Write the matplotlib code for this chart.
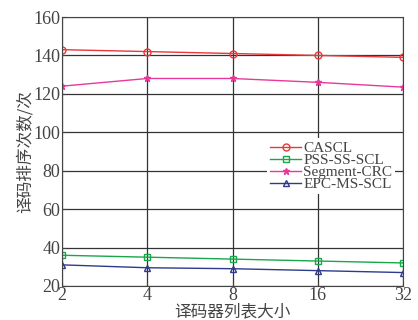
import matplotlib.pyplot as plt
import numpy as np

plt.rcParams['font.family'] = ['Liberation Serif', 'Noto Sans CJK SC']

list_sizes = [2, 4, 8, 16, 32]
cascl = [143, 142, 141, 140, 139]
pss_ss_scl = [36, 35, 34, 33, 32]
segment_crc = [124, 128, 128, 126, 123.5]
epc_ms_scl = [31, 29.5, 29, 28, 27]

fig = plt.figure(figsize=(4.18, 3.2), dpi=100)
ax = fig.add_axes([62/418, 34/320, 341/418, 269/320])

ax.plot(list_sizes, cascl, color="#e8383d", marker="o", markersize=5,
        markerfacecolor="none", linewidth=1, label="CASCL")
ax.plot(list_sizes, pss_ss_scl, color="#1aa64a", marker="s", markersize=5,
        markerfacecolor="none", linewidth=1, label="PSS-SS-SCL")
ax.plot(list_sizes, segment_crc, color="#e8399a", marker="*", markersize=5,
        linewidth=1, label="Segment-CRC")
ax.plot(list_sizes, epc_ms_scl, color="#2e3a8c", marker="^", markersize=5,
        markerfacecolor="none", linewidth=1, label="EPC-MS-SCL")

ax.set_xscale("log", base=2)
ax.set_xticks(list_sizes)
ax.set_xticklabels([str(v) for v in list_sizes])
ax.minorticks_off()
ax.set_xlim(2, 32)
ax.set_ylim(20, 160)
ax.set_yticks(np.arange(20, 161, 20))
ax.grid(True, color="#333333", linewidth=0.9)
ax.tick_params(direction="in", labelsize=13, colors="#444444", pad=1, length=3)
for s in ax.spines.values():
    s.set_color("#444444")

ax.set_xlabel("译码器列表大小", fontsize=12, color="#444444", labelpad=-1,
              family=['Noto Sans CJK SC'])
ax.set_ylabel("译码排序次数/次", fontsize=12, color="#444444", labelpad=0,
              family=['Noto Sans CJK SC'])

leg = ax.legend(loc="center right", bbox_to_anchor=(1.0, 0.445), frameon=True,
                fontsize=11, handlelength=2.0, handletextpad=0.15,
                labelspacing=-0.1, borderpad=0.2, framealpha=1)
leg.get_frame().set_edgecolor("white")
leg.get_frame().set_linewidth(0)
for t in leg.get_texts():
    t.set_color("#444444")

fig.savefig("out.png", dpi=100)
